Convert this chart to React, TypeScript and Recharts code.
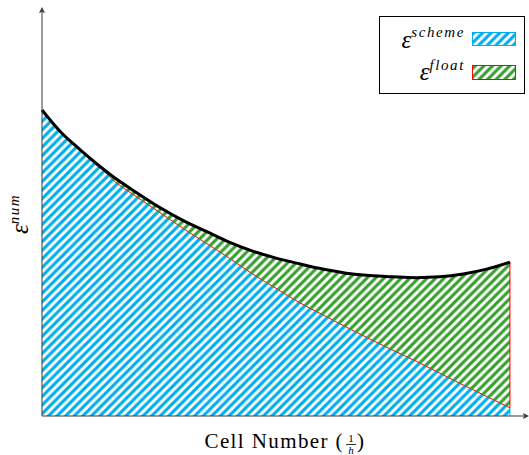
import {
  Area,
  ComposedChart,
  Legend,
  Line,
  ReferenceLine,
  XAxis,
  YAxis,
} from "recharts";

// cell position along the mesh (0 = left edge, 100 = last cell)
const cells = [0, 4, 8, 12, 15, 20, 25, 30, 35, 40, 45, 50, 55, 60, 65, 70, 75, 80, 85, 90, 95, 100];
// total numerical error (black curve)
const totalErr = [
  75.0, 69.6, 65.4, 61.5, 58.8, 54.9, 51.2, 48.0, 45.3, 42.6, 40.4, 38.7, 37.3, 36.0, 35.0,
  34.4, 34.1, 33.9, 34.1, 34.8, 36.0, 37.7,
];
// scheme part of the error (red boundary)
const schemeErr = [
  75.0, 69.6, 65.4, 61.5, 58.0, 53.9, 50.0, 46.1, 42.4, 38.7, 34.8, 31.3, 27.8, 24.8, 21.8,
  18.9, 16.1, 13.4, 10.5, 7.6, 4.8, 2.0,
];

const blue = "#00aeef";
const green = "#35a12c";
const red = "#ff0000";
const axisColor = "#3a3a3a";
const mathFont = "Liberation Serif";

const data = cells.map((x, i) => ({
  x,
  total: totalErr[i],
  scheme: schemeErr[i],
  band: [schemeErr[i], totalErr[i]],
}));

const last = cells.length - 1;

// north east lines, like tikz patterns
function Hatch({ id, color }: { id: string; color: string }) {
  return (
    <pattern id={id} width={8.6} height={8.6} patternUnits="userSpaceOnUse">
      <path
        d="M-1.5,1.5 L1.5,-1.5 M0,8.6 L8.6,0 M7.1,10.1 L10.1,7.1"
        stroke={color}
        strokeWidth={3.2}
      />
    </pattern>
  );
}

function XLabel({ viewBox }: any) {
  const cx = viewBox.x + viewBox.width / 2;
  const base = viewBox.y + 32;
  return (
    <g style={{ fontFamily: mathFont }} fill="#000">
      <text x={cx + 61} y={base} fontSize={21} textAnchor="end" letterSpacing={1.4}>
        Cell Number (
      </text>
      <text x={cx + 68} y={base - 6} fontSize={11} textAnchor="middle">
        1
      </text>
      <line x1={cx + 63} x2={cx + 73} y1={base - 3.5} y2={base - 3.5} stroke="#000" strokeWidth={0.8} />
      <text x={cx + 68} y={base + 6} fontSize={11} fontStyle="italic" textAnchor="middle">
        h
      </text>
      <text x={cx + 74} y={base} fontSize={21}>
        )
      </text>
    </g>
  );
}

function YLabel({ viewBox }: any) {
  const px = viewBox.x + viewBox.width - 14;
  const py = viewBox.y + viewBox.height / 2;
  return (
    <text
      x={px}
      y={py}
      transform={`rotate(-90, ${px}, ${py})`}
      textAnchor="middle"
      style={{ fontFamily: mathFont }}
      fontStyle="italic"
      fill="#000"
    >
      <tspan fontSize={25}>ε</tspan>
      <tspan fontSize={15} dy={-9} letterSpacing={1.5}>
        num
      </tspan>
    </text>
  );
}

const LegendBox = () => (
  <svg width={146} height={78} style={{ display: "block", fontFamily: mathFont }}>
    <defs>
      <Hatch id="lg-blue" color={blue} />
      <Hatch id="lg-green" color={green} />
    </defs>
    <rect x={0.5} y={0.5} width={145} height={77} fill="#fff" stroke="#000" />
    <text x={86} y={32} textAnchor="end" fontStyle="italic" fill="#000">
      <tspan fontSize={25}>ε</tspan>
      <tspan fontSize={15} dy={-11} letterSpacing={1.6}>
        scheme
      </tspan>
    </text>
    <text x={86} y={64} textAnchor="end" fontStyle="italic" fill="#000">
      <tspan fontSize={25}>ε</tspan>
      <tspan fontSize={15} dy={-10} letterSpacing={1.6}>
        float
      </tspan>
    </text>
    <rect x={93.5} y={16.5} width={43} height={13} fill="url(#lg-blue)" stroke={blue} />
    <rect x={93.5} y={49.5} width={43} height={14} fill="url(#lg-green)" stroke={red} />
  </svg>
);

export default function App() {
  return (
    <div style={{ position: "absolute", left: 0, top: 0, background: "#fff" }}>
      <ComposedChart
        width={529}
        height={455}
        data={data}
        margin={{ top: 12, right: 5, bottom: 9, left: 12 }}
      >
        <defs>
          <Hatch id="hatch-blue" color={blue} />
          <Hatch id="hatch-green" color={green} />
          <marker
            id="ax-arrow"
            viewBox="0 0 10 10"
            refX={2}
            refY={5}
            markerWidth={7}
            markerHeight={7}
            markerUnits="userSpaceOnUse"
            orient="auto-start-reverse"
          >
            <path d="M0,0.5 L9,5 L0,9.5 L2.5,5 z" fill={axisColor} />
          </marker>
        </defs>
        <XAxis
          dataKey="x"
          type="number"
          domain={[0, 103]}
          tick={false}
          tickLine={false}
          height={30}
          axisLine={{ stroke: axisColor, strokeWidth: 1, markerEnd: "url(#ax-arrow)" }}
          label={<XLabel />}
        />
        <YAxis
          type="number"
          domain={[0, 99]}
          tick={false}
          tickLine={false}
          width={30}
          axisLine={{ stroke: axisColor, strokeWidth: 1, markerStart: "url(#ax-arrow)" }}
          label={<YLabel />}
        />
        <Area
          dataKey="scheme"
          type="monotone"
          fill="url(#hatch-blue)"
          fillOpacity={1}
          stroke={red}
          strokeWidth={1}
          isAnimationActive={false}
        />
        <Area
          dataKey="band"
          type="monotone"
          fill="url(#hatch-green)"
          fillOpacity={1}
          stroke="none"
          isAnimationActive={false}
        />
        <ReferenceLine
          segment={[
            { x: cells[last], y: 0 },
            { x: cells[last], y: schemeErr[last] },
          ]}
          stroke={blue}
          strokeWidth={1}
        />
        <ReferenceLine
          segment={[
            { x: cells[last], y: schemeErr[last] },
            { x: cells[last], y: totalErr[last] },
          ]}
          stroke={red}
          strokeWidth={1}
        />
        <Line
          dataKey="total"
          type="monotone"
          stroke="#000"
          strokeWidth={3}
          dot={false}
          activeDot={false}
          isAnimationActive={false}
        />
        <Legend
          layout="horizontal"
          verticalAlign="middle"
          content={() => <LegendBox />}
          wrapperStyle={{ left: 379, top: 16, width: 146, height: 78 }}
        />
      </ComposedChart>
    </div>
  );
}
